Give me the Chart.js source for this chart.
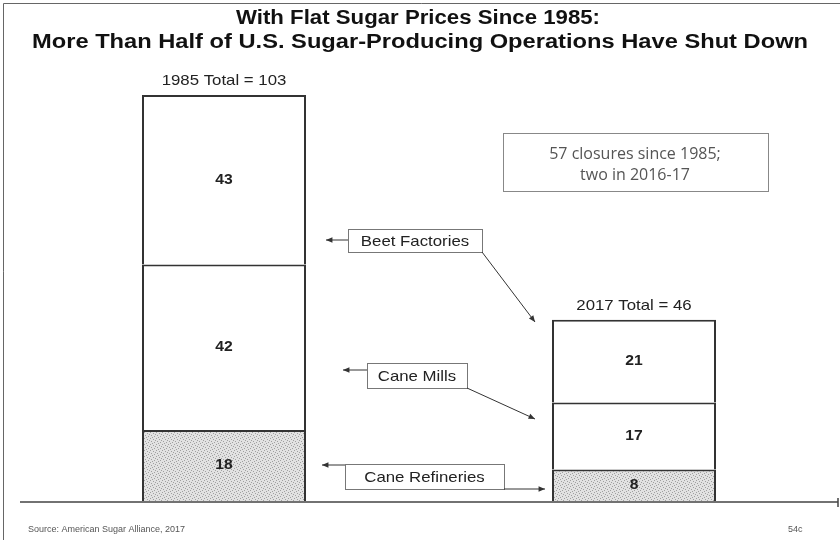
<!DOCTYPE html>
<html>
<head>
<meta charset="utf-8">
<title>Sugar operations 1985 vs 2017</title>
<script src="https://cdn.jsdelivr.net/npm/chart.js@4.4.0/dist/chart.umd.min.js"></script>
<style>
  body { margin: 0; background: #fff; }
  #wrap { width: 840px; height: 540px; }
</style>
</head>
<body>
<div id="wrap"><canvas id="myChart" width="840" height="540"></canvas></div>
<script>
// data
const years = ['1985', '2017'];
const caneRefineries = [18, 8];
const caneMills = [42, 17];
const beetFactories = [43, 21];
const seriesNames = ['Cane Refineries', 'Cane Mills', 'Beet Factories'];

const titleLines = ['With Flat Sugar Prices Since 1985:', 'More Than Half of U.S. Sugar-Producing Operations Have Shut Down'];
const noteLines = ['57 closures since 1985;', 'two in 2016-17'];
const sourceText = 'Source: American Sugar Alliance, 2017';
const pageTag = '54c';

const ARIAL = '"Liberation Sans", Arial, sans-serif';
const SX = 1.12; // the scanned slide text is a bit wide

// stippled grey fill for the refineries
function stipple() {
    let c = document.createElement('canvas');
    c.width = 6; c.height = 6;
    let g = c.getContext('2d');
    g.fillStyle = '#e2e2e2';
    g.fillRect(0, 0, 6, 6);
    g.fillStyle = '#a0a0a0';
    [[0,0],[3,1],[1,3],[4,4],[2,5],[5,2]].forEach(p => g.fillRect(p[0], p[1], 1, 1));
    return g.createPattern(c, 'repeat');
}

function txt(ctx, s, x, y, font, color, sx, width) {
    ctx.save();
    ctx.font = font;
    ctx.fillStyle = color;
    ctx.textAlign = 'center';
    ctx.textBaseline = 'middle';
    let k = sx || 1;
    if (width) k = width / ctx.measureText(s).width;
    ctx.translate(x, y);
    ctx.scale(k, 1);
    ctx.fillText(s, 0, 0);
    ctx.restore();
}

function arrow(ctx, x1, y1, x2, y2) {
    ctx.save();
    ctx.strokeStyle = '#333';
    ctx.fillStyle = '#333';
    ctx.lineWidth = 1;
    ctx.beginPath();
    ctx.moveTo(x1, y1);
    ctx.lineTo(x2, y2);
    ctx.stroke();
    let a = Math.atan2(y2 - y1, x2 - x1);
    ctx.beginPath();
    ctx.moveTo(x2, y2);
    ctx.lineTo(x2 - 7 * Math.cos(a - 0.4), y2 - 7 * Math.sin(a - 0.4));
    ctx.lineTo(x2 - 7 * Math.cos(a + 0.4), y2 - 7 * Math.sin(a + 0.4));
    ctx.closePath();
    ctx.fill();
    ctx.restore();
}

function box(ctx, x, y, w, h, color) {
    ctx.save();
    ctx.strokeStyle = color;
    ctx.lineWidth = 1;
    ctx.strokeRect(x + 0.5, y + 0.5, w, h);
    ctx.restore();
}

// callout boxes next to the bars (label, box, arrow to the left, arrow to the right)
const callouts = [
    { label: 'Beet Factories', x: 348, y: 229, w: 134, h: 23, left: [348, 240, 326, 240], right: [482, 252, 535, 322] },
    { label: 'Cane Mills', x: 367, y: 363, w: 100, h: 25, left: [367, 370, 343, 370], right: [467, 388, 535, 419] },
    { label: 'Cane Refineries', x: 345, y: 464, w: 159, h: 25, left: [345, 465, 322, 465], right: [504, 489, 545, 489] }
];

const decor = {
    id: 'decor',
    afterDraw(chart) {
        let ctx = chart.ctx, area = chart.chartArea;

        // slide frame
        ctx.save();
        ctx.strokeStyle = '#666';
        ctx.lineWidth = 1;
        ctx.beginPath();
        ctx.moveTo(3.5, 540); ctx.lineTo(3.5, 3.5); ctx.lineTo(840, 3.5);
        ctx.stroke();
        // baseline
        ctx.strokeStyle = '#444';
        ctx.lineWidth = 1.5;
        ctx.beginPath();
        ctx.moveTo(20, area.bottom + 1); ctx.lineTo(838, area.bottom + 1);
        ctx.moveTo(838, area.bottom - 3); ctx.lineTo(838, area.bottom + 6);
        ctx.stroke();
        ctx.restore();

        // title
        txt(ctx, titleLines[0], 418, 18, 'bold 20px ' + ARIAL, '#111', null, 364);
        txt(ctx, titleLines[1], 420, 42, 'bold 20px ' + ARIAL, '#111', null, 776);

        // values inside each segment
        chart.data.datasets.forEach((ds, i) => {
            let meta = chart.getDatasetMeta(i);
            meta.data.forEach((bar, j) => {
                let cy = (bar.y + bar.base) / 2;
                txt(ctx, String(ds.data[j]), bar.x, cy, 'bold 14px ' + ARIAL, '#222', SX);
            });
        });

        // totals above the bars
        let top = chart.getDatasetMeta(chart.data.datasets.length - 1);
        years.forEach((yr, j) => {
            let total = caneRefineries[j] + caneMills[j] + beetFactories[j];
            let bar = top.data[j];
            txt(ctx, yr + ' Total = ' + total, bar.x, bar.y - 14, '15px ' + ARIAL, '#222', SX);
        });

        // callouts
        callouts.forEach(c => {
            box(ctx, c.x, c.y, c.w, c.h, '#777');
            txt(ctx, c.label, c.x + c.w / 2, c.y + c.h / 2 + 1, '15px ' + ARIAL, '#222', SX);
            arrow(ctx, c.left[0], c.left[1], c.left[2], c.left[3]);
            arrow(ctx, c.right[0], c.right[1], c.right[2], c.right[3]);
        });

        // note box
        box(ctx, 503, 133, 265, 58, '#888');
        txt(ctx, noteLines[0], 635, 154, '16px "Open Sans", sans-serif', '#555');
        txt(ctx, noteLines[1], 635, 175, '16px "Open Sans", sans-serif', '#555');

        // footer
        ctx.save();
        ctx.font = '9px ' + ARIAL;
        ctx.fillStyle = '#555';
        ctx.textBaseline = 'middle';
        ctx.fillText(sourceText, 28, 530);
        ctx.fillText(pageTag, 788, 530);
        ctx.restore();
    }
};

const fill = stipple();

const data = {
    labels: years,
    datasets: [
        { label: seriesNames[0], data: caneRefineries, backgroundColor: fill },
        { label: seriesNames[1], data: caneMills, backgroundColor: '#fff' },
        { label: seriesNames[2], data: beetFactories, backgroundColor: '#fff' }
    ]
};
data.datasets.forEach(ds => {
    ds.borderColor = '#333';
    ds.borderWidth = 2;
    ds.borderSkipped = 'start';
    ds.barPercentage = 0.4;
    ds.categoryPercentage = 1;
    ds.clip = false;
});

const config = {
    type: 'bar',
    data,
    options: {
        responsive: false,
        animation: false,
        devicePixelRatio: 1,
        layout: { padding: { left: 19, right: 1, top: 95, bottom: 39 } },
        scales: {
            x: { stacked: true, display: false },
            y: { stacked: true, display: false, min: 0, max: 103 }
        },
        plugins: {
            legend: { display: false },
            tooltip: { enabled: false },
            title: { display: false }
        }
    },
    plugins: [decor]
};

let myChart = new Chart(document.getElementById('myChart'), config);
</script>
</body>
</html>
